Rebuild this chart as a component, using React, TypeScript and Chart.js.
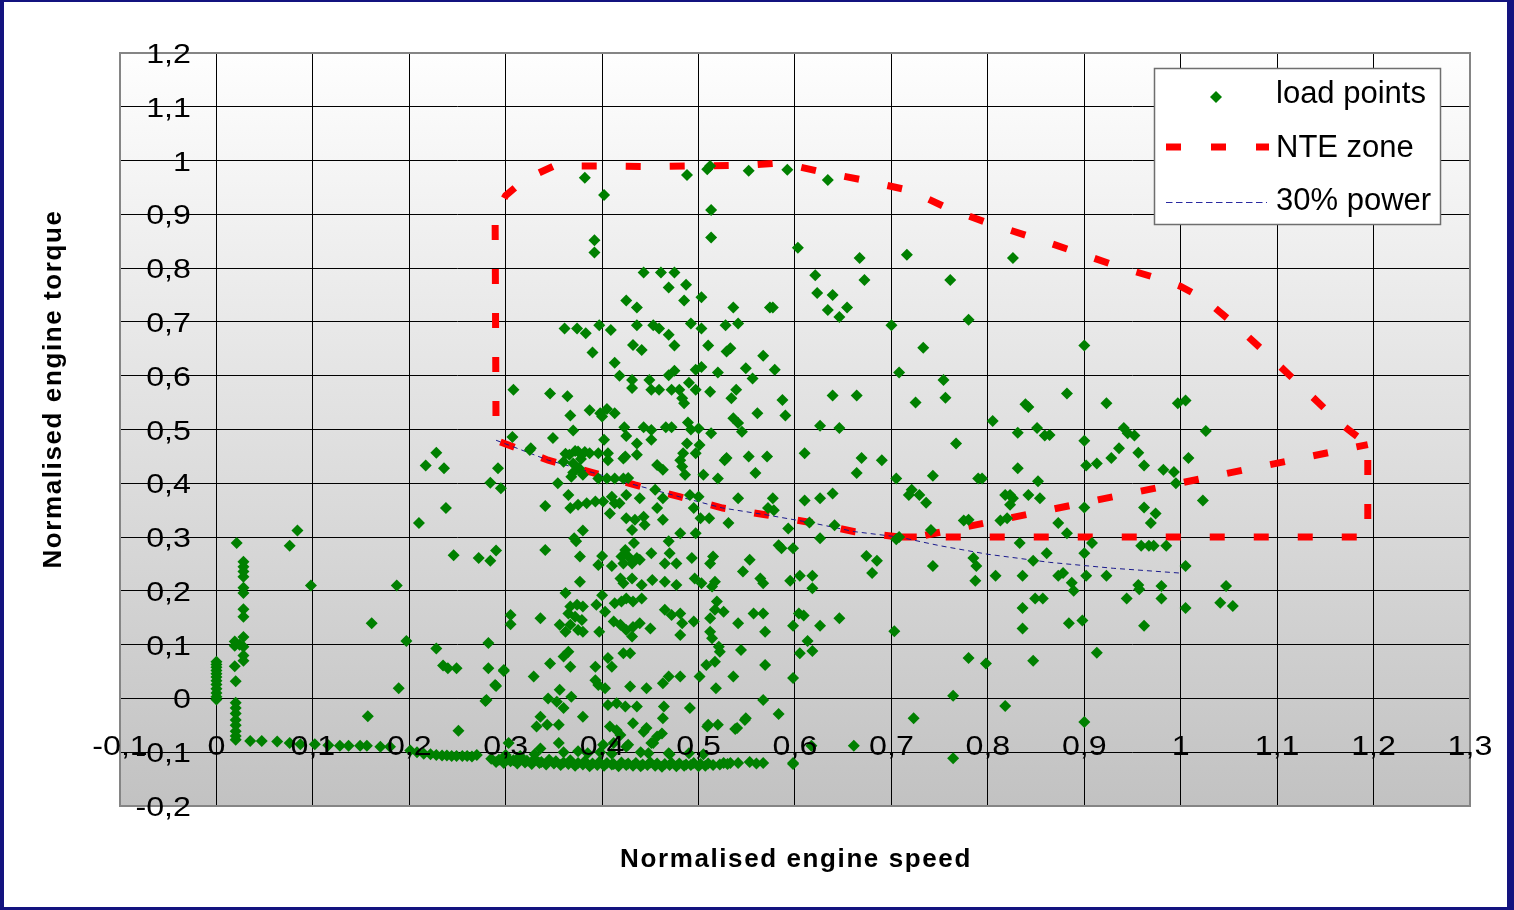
import React, { useEffect, useRef } from 'react';
import { Chart, registerables } from 'chart.js';

Chart.register(...registerables);

// ---------- axis setup ----------
const X_RANGE = [-0.1, 1.3];
const Y_RANGE = [-0.2, 1.2];
const TICK_STEP = 0.1;
const X_TITLE = 'Normalised engine speed';
const Y_TITLE = 'Normalised engine torque';
const LEGEND_LABELS = ['load points', 'NTE zone', '30% power'];

// ---------- load points [speed, torque] ----------
const idlePoints: [number, number][] = [
  [0, 0.068], [0, 0.063], [0, 0.058], [0, 0.052], [0, 0.046], [0, 0.04], [0, 0.033], [0, 0.026],
  [0, 0.018], [0, 0.01], [0, 0.003], [0, -0.002],
];

const lowSpeedColumn: [number, number][] = [
  [0.021, 0.289], [0.028, 0.254], [0.028, 0.245], [0.028, 0.236], [0.028, 0.226], [0.028, 0.206],
  [0.028, 0.196], [0.028, 0.166], [0.028, 0.152], [0.028, 0.114], [0.019, 0.106], [0.019, 0.098],
  [0.024, 0.1], [0.028, 0.096], [0.028, 0.08], [0.028, 0.07], [0.019, 0.06], [0.02, 0.032],
  [0.02, -0.008], [0.02, -0.018], [0.02, -0.028], [0.02, -0.04], [0.02, -0.05], [0.02, -0.061],
  [0.02, -0.07], [0.02, -0.077],
];

const motoringPoints: [number, number][] = [
  [0.035, -0.079], [0.047, -0.079], [0.063, -0.08], [0.076, -0.083], [0.087, -0.085], [0.102, -0.085],
  [0.116, -0.087], [0.128, -0.088], [0.137, -0.088], [0.149, -0.088], [0.156, -0.088], [0.17, -0.09],
  [0.18, -0.09], [0.201, -0.097], [0.208, -0.1], [0.215, -0.103], [0.222, -0.104], [0.228, -0.105],
  [0.234, -0.106], [0.239, -0.106], [0.244, -0.107], [0.249, -0.107], [0.255, -0.107], [0.26, -0.107],
  [0.265, -0.108], [0.27, -0.105],
];

const bottomBand: [number, number][] = [
  [0.285, -0.112], [0.293, -0.114], [0.3, -0.11], [0.308, -0.115], [0.315, -0.113], [0.322, -0.116],
  [0.33, -0.112], [0.337, -0.118], [0.345, -0.114], [0.352, -0.117], [0.36, -0.119], [0.367, -0.115],
  [0.375, -0.12], [0.382, -0.117], [0.39, -0.121], [0.397, -0.118], [0.405, -0.12], [0.412, -0.122],
  [0.42, -0.119], [0.427, -0.121], [0.435, -0.12], [0.442, -0.123], [0.45, -0.119], [0.457, -0.121],
  [0.465, -0.122], [0.472, -0.12], [0.48, -0.121], [0.487, -0.123], [0.495, -0.12], [0.502, -0.122],
  [0.51, -0.121],
  [0.29, -0.118], [0.298, -0.12], [0.305, -0.117], [0.312, -0.121], [0.32, -0.119], [0.327, -0.122],
  [0.335, -0.12], [0.342, -0.123], [0.35, -0.121], [0.357, -0.124], [0.365, -0.122], [0.372, -0.125],
  [0.38, -0.123], [0.387, -0.126], [0.395, -0.124], [0.402, -0.125], [0.41, -0.123], [0.417, -0.126],
  [0.425, -0.124], [0.432, -0.125], [0.44, -0.126], [0.447, -0.124], [0.455, -0.125], [0.462, -0.127],
  [0.47, -0.124], [0.477, -0.126], [0.485, -0.125], [0.492, -0.124], [0.5, -0.126], [0.507, -0.125],
  [0.515, -0.124], [0.522, -0.123],
  [0.526, -0.12], [0.533, -0.12], [0.541, -0.12], [0.553, -0.118], [0.567, -0.12], [0.598, -0.122],
  [0.53, -0.122], [0.56, -0.121],
  [0.36, -0.1], [0.375, -0.098], [0.385, -0.102], [0.398, -0.1], [0.41, -0.103], [0.44, -0.1],
  [0.47, -0.104], [0.49, -0.102], [0.505, -0.104], [0.3, -0.105], [0.315, -0.107], [0.33, -0.104],
];

const lowLoadScatter: [number, number][] = [
  [0.084, 0.312], [0.076, 0.284], [0.098, 0.21], [0.161, 0.14], [0.187, 0.21], [0.197, 0.107],
  [0.189, 0.019], [0.157, -0.033], [0.21, 0.326], [0.217, 0.433], [0.228, 0.457], [0.236, 0.428],
  [0.238, 0.354], [0.246, 0.266], [0.228, 0.093], [0.235, 0.061], [0.24, 0.056], [0.249, 0.056],
  [0.251, -0.06], [0.272, 0.261], [0.284, 0.256], [0.29, 0.275], [0.284, 0.401], [0.292, 0.428],
  [0.295, 0.391], [0.307, 0.486], [0.282, 0.103], [0.282, 0.056], [0.29, 0.023], [0.298, 0.051],
  [0.279, -0.005], [0.305, 0.155], [0.305, 0.138], [0.303, -0.083],
];

const upperMidCluster: [number, number][] = [
  [0.382, 0.968], [0.488, 0.973], [0.509, 0.984], [0.512, 0.99], [0.552, 0.981], [0.402, 0.936],
  [0.513, 0.908], [0.513, 0.857], [0.392, 0.852], [0.392, 0.829], [0.443, 0.792], [0.461, 0.792],
  [0.475, 0.792], [0.469, 0.764], [0.487, 0.769], [0.485, 0.74], [0.503, 0.746], [0.425, 0.74],
  [0.436, 0.727], [0.536, 0.727], [0.574, 0.727], [0.361, 0.688], [0.374, 0.688], [0.383, 0.679],
  [0.397, 0.694], [0.409, 0.685], [0.436, 0.694], [0.453, 0.694], [0.459, 0.688], [0.469, 0.676],
  [0.492, 0.697], [0.503, 0.688], [0.528, 0.694], [0.541, 0.697], [0.432, 0.657], [0.441, 0.648],
  [0.475, 0.656], [0.51, 0.656], [0.529, 0.645], [0.533, 0.651], [0.567, 0.637], [0.39, 0.643],
  [0.413, 0.624], [0.418, 0.6], [0.431, 0.592], [0.431, 0.577], [0.449, 0.592], [0.451, 0.574],
  [0.459, 0.574], [0.469, 0.601], [0.475, 0.609], [0.49, 0.587], [0.497, 0.611], [0.503, 0.616],
  [0.52, 0.606], [0.549, 0.614], [0.556, 0.595], [0.472, 0.574], [0.48, 0.574], [0.483, 0.558],
  [0.485, 0.549], [0.497, 0.574], [0.512, 0.57], [0.539, 0.574], [0.534, 0.558], [0.308, 0.574],
  [0.346, 0.567], [0.364, 0.562], [0.367, 0.526], [0.387, 0.536], [0.398, 0.53], [0.405, 0.538],
  [0.413, 0.53], [0.4, 0.524], [0.37, 0.498], [0.402, 0.481], [0.423, 0.504], [0.425, 0.488],
  [0.436, 0.474], [0.443, 0.504], [0.451, 0.499], [0.451, 0.481], [0.466, 0.504], [0.472, 0.504],
  [0.489, 0.513], [0.492, 0.5], [0.5, 0.502], [0.513, 0.493], [0.536, 0.521], [0.541, 0.512],
  [0.545, 0.496], [0.561, 0.53], [0.488, 0.474], [0.484, 0.456], [0.501, 0.471], [0.497, 0.456],
  [0.326, 0.465], [0.349, 0.484], [0.366, 0.453], [0.375, 0.459], [0.387, 0.456], [0.396, 0.456],
  [0.406, 0.456], [0.424, 0.45], [0.436, 0.453], [0.529, 0.447], [0.552, 0.45], [0.571, 0.45],
];

const lowerMidCluster: [number, number][] = [
  [0.325, 0.462], [0.362, 0.455], [0.372, 0.46], [0.382, 0.458], [0.36, 0.44], [0.37, 0.437],
  [0.378, 0.445], [0.376, 0.428], [0.37, 0.42], [0.406, 0.443], [0.422, 0.446], [0.457, 0.434],
  [0.463, 0.425], [0.481, 0.443], [0.483, 0.431], [0.486, 0.416], [0.505, 0.416], [0.52, 0.409],
  [0.527, 0.443], [0.559, 0.419], [0.354, 0.4], [0.365, 0.378], [0.368, 0.412], [0.38, 0.416],
  [0.396, 0.409], [0.405, 0.409], [0.413, 0.409], [0.422, 0.409], [0.427, 0.41], [0.425, 0.378],
  [0.439, 0.372], [0.455, 0.388], [0.463, 0.372], [0.491, 0.378], [0.5, 0.375], [0.541, 0.372],
  [0.572, 0.354], [0.341, 0.358], [0.367, 0.354], [0.375, 0.36], [0.384, 0.363], [0.393, 0.366],
  [0.401, 0.366], [0.41, 0.375], [0.413, 0.363], [0.408, 0.344], [0.418, 0.363], [0.457, 0.354],
  [0.425, 0.335], [0.434, 0.332], [0.443, 0.338], [0.444, 0.323], [0.463, 0.332], [0.495, 0.354],
  [0.502, 0.335], [0.511, 0.335], [0.531, 0.326], [0.38, 0.312], [0.371, 0.298], [0.373, 0.292],
  [0.431, 0.313], [0.433, 0.289], [0.481, 0.307], [0.497, 0.307], [0.469, 0.292], [0.341, 0.276],
  [0.377, 0.264], [0.4, 0.265], [0.396, 0.248], [0.41, 0.246], [0.42, 0.264], [0.424, 0.276],
  [0.427, 0.264], [0.436, 0.261], [0.422, 0.251], [0.431, 0.251], [0.439, 0.258], [0.451, 0.27],
  [0.465, 0.251], [0.47, 0.27], [0.477, 0.251], [0.493, 0.261], [0.512, 0.251], [0.515, 0.264],
  [0.546, 0.236], [0.553, 0.258], [0.564, 0.223], [0.567, 0.214], [0.377, 0.217], [0.419, 0.223],
  [0.422, 0.214], [0.431, 0.223], [0.441, 0.211], [0.452, 0.22], [0.465, 0.217], [0.477, 0.211],
  [0.496, 0.223], [0.503, 0.214], [0.517, 0.217], [0.514, 0.208], [0.362, 0.196], [0.367, 0.171],
  [0.365, 0.158], [0.374, 0.174], [0.38, 0.171], [0.372, 0.152], [0.379, 0.146], [0.356, 0.137],
  [0.362, 0.124], [0.375, 0.127], [0.38, 0.124], [0.367, 0.137], [0.336, 0.149], [0.394, 0.174],
  [0.4, 0.192], [0.403, 0.161], [0.397, 0.124], [0.413, 0.177], [0.42, 0.18], [0.425, 0.186],
  [0.432, 0.18], [0.441, 0.186], [0.412, 0.143], [0.419, 0.137], [0.425, 0.127], [0.432, 0.133],
  [0.439, 0.14], [0.45, 0.13], [0.431, 0.115], [0.465, 0.165], [0.472, 0.155], [0.481, 0.158],
  [0.483, 0.14], [0.495, 0.143], [0.481, 0.118], [0.512, 0.149], [0.517, 0.165], [0.519, 0.18],
  [0.526, 0.161], [0.541, 0.14], [0.557, 0.158], [0.567, 0.158], [0.569, 0.124], [0.512, 0.124],
  [0.514, 0.112], [0.521, 0.096], [0.522, 0.087], [0.544, 0.09], [0.365, 0.087], [0.36, 0.078],
  [0.367, 0.059], [0.346, 0.065], [0.329, 0.041], [0.298, 0.053], [0.289, 0.025], [0.393, 0.059],
  [0.406, 0.075], [0.41, 0.059], [0.422, 0.084], [0.429, 0.084], [0.469, 0.041], [0.481, 0.041],
  [0.501, 0.041], [0.508, 0.062], [0.517, 0.068], [0.536, 0.041], [0.393, 0.034], [0.396, 0.025],
  [0.403, 0.019], [0.429, 0.022], [0.446, 0.019], [0.463, 0.028], [0.518, 0.019], [0.569, 0.062],
  [0.356, 0.016], [0.368, 0.003], [0.344, 0], [0.353, -0.006], [0.36, -0.018], [0.28, -0.003],
  [0.336, -0.034], [0.343, -0.049], [0.355, -0.049], [0.332, -0.052], [0.38, -0.034], [0.406, -0.012],
  [0.415, -0.009], [0.424, -0.015], [0.436, -0.015], [0.464, -0.015], [0.491, -0.018], [0.463, -0.037],
  [0.408, -0.052], [0.419, -0.068], [0.432, -0.046], [0.446, -0.055], [0.457, -0.071], [0.462, -0.065],
  [0.451, -0.083], [0.51, -0.049], [0.52, -0.049], [0.54, -0.055], [0.549, -0.037], [0.567, -0.003],
  [0.355, -0.083], [0.336, -0.093], [0.412, -0.083], [0.425, -0.09], [0.509, -0.052], [0.538, -0.057],
  [0.548, -0.04], [0.443, -0.062], [0.453, -0.083], [0.427, -0.086], [0.448, -0.102], [0.469, -0.102],
  [0.401, -0.086], [0.415, -0.059],
];

const highSpeedUpper: [number, number][] = [
  [0.592, 0.983], [0.634, 0.964], [0.603, 0.838], [0.667, 0.819], [0.716, 0.825], [0.826, 0.819],
  [0.621, 0.787], [0.672, 0.778], [0.761, 0.778], [0.577, 0.727], [0.623, 0.754], [0.639, 0.75],
  [0.634, 0.722], [0.654, 0.727], [0.646, 0.709], [0.7, 0.694], [0.78, 0.704], [0.733, 0.652],
  [0.579, 0.611], [0.708, 0.606], [0.754, 0.592], [0.587, 0.555], [0.59, 0.526], [0.639, 0.563],
  [0.664, 0.563], [0.725, 0.55], [0.756, 0.559], [0.839, 0.547], [0.842, 0.542], [0.626, 0.507],
  [0.646, 0.503], [0.805, 0.516], [0.831, 0.494], [0.851, 0.503], [0.859, 0.489], [0.767, 0.474],
  [0.61, 0.456], [0.669, 0.447], [0.69, 0.443],
];

const highSpeedLower: [number, number][] = [
  [0.664, 0.419], [0.705, 0.409], [0.743, 0.414], [0.79, 0.409], [0.794, 0.409], [0.831, 0.428],
  [0.852, 0.404], [0.577, 0.372], [0.578, 0.35], [0.61, 0.368], [0.626, 0.372], [0.639, 0.381],
  [0.718, 0.378], [0.721, 0.388], [0.729, 0.378], [0.736, 0.364], [0.818, 0.378], [0.823, 0.378],
  [0.826, 0.372], [0.842, 0.378], [0.854, 0.372], [0.823, 0.36], [0.593, 0.316], [0.615, 0.327],
  [0.641, 0.322], [0.626, 0.298], [0.705, 0.296], [0.708, 0.3], [0.741, 0.313], [0.775, 0.331],
  [0.78, 0.332], [0.813, 0.331], [0.82, 0.335], [0.583, 0.285], [0.586, 0.279], [0.598, 0.279],
  [0.833, 0.289], [0.873, 0.326], [0.674, 0.265], [0.685, 0.256], [0.68, 0.233], [0.743, 0.246],
  [0.785, 0.261], [0.788, 0.246], [0.787, 0.219], [0.808, 0.228], [0.836, 0.228], [0.847, 0.256],
  [0.861, 0.27], [0.873, 0.228], [0.595, 0.219], [0.605, 0.228], [0.618, 0.228], [0.618, 0.205],
  [0.598, 0.135], [0.604, 0.158], [0.609, 0.154], [0.626, 0.135], [0.646, 0.149], [0.613, 0.107],
  [0.605, 0.084], [0.618, 0.088], [0.703, 0.125], [0.836, 0.168], [0.836, 0.13], [0.849, 0.186],
  [0.857, 0.186], [0.598, 0.038], [0.78, 0.075], [0.798, 0.065], [0.847, 0.07], [0.583, -0.029],
  [0.764, 0.005], [0.818, -0.014], [0.723, -0.037], [0.661, -0.088], [0.617, -0.088], [0.598, -0.12],
  [0.764, -0.111],
];

const ratedSpeedCluster: [number, number][] = [
  [0.9, 0.656], [0.882, 0.567], [0.923, 0.549], [0.997, 0.549], [1.005, 0.554], [0.941, 0.503],
  [0.945, 0.493], [0.952, 0.489], [1.026, 0.497], [0.9, 0.479], [0.936, 0.465], [0.928, 0.447],
  [0.956, 0.457], [0.962, 0.433], [0.902, 0.433], [0.913, 0.437], [1.008, 0.447], [0.982, 0.425],
  [0.993, 0.421], [0.995, 0.4], [0.864, 0.49], [0.9, 0.355], [0.962, 0.355], [0.974, 0.344],
  [0.969, 0.326], [1.023, 0.368], [0.882, 0.307], [0.908, 0.289], [0.9, 0.27], [0.959, 0.284],
  [0.967, 0.284], [0.972, 0.284], [0.985, 0.284], [1.005, 0.246], [0.878, 0.233], [0.902, 0.228],
  [0.923, 0.228], [0.887, 0.215], [0.889, 0.2], [0.956, 0.211], [0.957, 0.203], [0.98, 0.209],
  [0.98, 0.186], [0.944, 0.186], [1.047, 0.209], [1.041, 0.178], [1.054, 0.172], [1.005, 0.168],
  [0.884, 0.14], [0.898, 0.145], [0.962, 0.135], [0.913, 0.085], [0.9, -0.044],
];

// ---------- boundary curves [speed, torque] ----------
const nteZone: [number, number][] = [
  [0.708, 0.3], [0.662, 0.31], [0.616, 0.327], [0.571, 0.341], [0.525, 0.354], [0.48, 0.375],
  [0.434, 0.397], [0.39, 0.42], [0.344, 0.443], [0.29, 0.48],
  [0.289, 0.9], [0.3, 0.935], [0.32, 0.965], [0.35, 0.99], [0.4, 0.99], [0.45, 0.989], [0.5, 0.99],
  [0.55, 0.991], [0.58, 0.995], [0.605, 0.988], [0.63, 0.978], [0.67, 0.964], [0.72, 0.944],
  [0.76, 0.91], [0.8, 0.884], [0.85, 0.855], [0.89, 0.831], [0.935, 0.803], [0.98, 0.779],
  [1.0, 0.766], [1.025, 0.742], [1.06, 0.689], [1.095, 0.631], [1.13, 0.572], [1.165, 0.512],
  [1.194, 0.472],
  [1.194, 0.3], [0.708, 0.3],
  [0.726, 0.3], [1.194, 0.472],
];

const powerLine30: [number, number][] = [
  [0.29, 0.48], [0.344, 0.443], [0.39, 0.42], [0.434, 0.397], [0.48, 0.375], [0.525, 0.354],
  [0.571, 0.341], [0.616, 0.327], [0.662, 0.31], [0.708, 0.3], [0.75, 0.284], [0.8, 0.268],
  [0.864, 0.253], [0.93, 0.242], [1.0, 0.233],
];

const FONT = '"Liberation Sans", Arial, sans-serif';
const toXY = (arr: [number, number][]) => arr.map(([x, y]) => ({ x, y }));
const fmtTick = (v: number) => String(Math.round(v * 10) / 10).replace('.', ',');

const backgroundPlugin = {
  id: 'plotBackground',
  beforeDraw(chart: any) {
    const { ctx, chartArea: a } = chart;
    const g = ctx.createLinearGradient(0, a.top, 0, a.bottom);
    g.addColorStop(0, '#fefefe');
    g.addColorStop(1, '#c2c2c2');
    ctx.save();
    ctx.fillStyle = g;
    ctx.fillRect(a.left, a.top, a.right - a.left, a.bottom - a.top);
    ctx.restore();
  },
};

const overlayPlugin = {
  id: 'overlay',
  afterDraw(chart: any) {
    const { ctx, chartArea: a, scales } = chart;
    const xs = scales.x;
    const ys = scales.y;
    ctx.save();
    // plot frame
    ctx.strokeStyle = '#858585';
    ctx.lineWidth = 2;
    ctx.strokeRect(a.left, a.top, a.right - a.left, a.bottom - a.top);

    // tick labels
    ctx.fillStyle = '#000';
    ctx.font = `28px ${FONT}`;
    ctx.textBaseline = 'alphabetic';
    const yAxisPx = ys.getPixelForValue(0);
    ctx.textAlign = 'center';
    for (const t of xs.ticks) {
      const px = xs.getPixelForValue(t.value);
      ctx.save();
      ctx.translate(px, yAxisPx + 56.5);
      ctx.scale(1.15, 1);
      ctx.fillText(fmtTick(t.value), 0, 0);
      ctx.restore();
    }
    const xAxisPx = xs.getPixelForValue(0);
    ctx.textAlign = 'right';
    for (const t of ys.ticks) {
      const py = ys.getPixelForValue(t.value);
      ctx.save();
      ctx.translate(xAxisPx - 25.5, py + 10);
      ctx.scale(1.15, 1);
      ctx.fillText(fmtTick(t.value), 0, 0);
      ctx.restore();
    }

    // axis titles
    ctx.font = `bold 26px ${FONT}`;
    (ctx as any).letterSpacing = '1.6px';
    ctx.textAlign = 'center';
    ctx.fillText(X_TITLE, (a.left + a.right) / 2 + 1, a.bottom + 61);
    ctx.save();
    ctx.translate(a.left - 59, a.top + 336);
    ctx.rotate(-Math.PI / 2);
    ctx.fillText(Y_TITLE, 0, 0);
    ctx.restore();
    (ctx as any).letterSpacing = '0px';

    // legend
    const lx = a.right - 316;
    const ly = a.top + 15;
    ctx.fillStyle = '#fff';
    ctx.fillRect(lx, ly, 287, 157);
    ctx.strokeStyle = '#6e6e6e';
    ctx.lineWidth = 1.5;
    ctx.strokeRect(lx + 0.5, ly + 0.5, 286, 156);

    // load points symbol
    const dx = lx + 62;
    const dy = ly + 29;
    ctx.fillStyle = '#008000';
    ctx.beginPath();
    ctx.moveTo(dx - 6, dy);
    ctx.lineTo(dx, dy - 6);
    ctx.lineTo(dx + 6, dy);
    ctx.lineTo(dx, dy + 6);
    ctx.closePath();
    ctx.fill();

    // NTE symbol
    ctx.strokeStyle = '#ff0000';
    ctx.lineWidth = 7;
    ctx.setLineDash([15, 30]);
    ctx.beginPath();
    ctx.moveTo(lx + 12, ly + 79);
    ctx.lineTo(lx + 115, ly + 79);
    ctx.stroke();

    // 30% power symbol
    ctx.strokeStyle = '#2a2aa0';
    ctx.lineWidth = 1;
    ctx.setLineDash([6.5, 3.5]);
    ctx.beginPath();
    ctx.moveTo(lx + 12, ly + 134.5);
    ctx.lineTo(lx + 113, ly + 134.5);
    ctx.stroke();
    ctx.setLineDash([]);

    ctx.fillStyle = '#000';
    ctx.font = `31px ${FONT}`;
    ctx.textAlign = 'left';
    ctx.fillText(LEGEND_LABELS[0], lx + 122, ly + 35.3);
    ctx.fillText(LEGEND_LABELS[1], lx + 122, ly + 88.7);
    ctx.fillText(LEGEND_LABELS[2], lx + 122, ly + 142);
    ctx.restore();
  },
};

export default function App() {
  const canvasRef = useRef<HTMLCanvasElement | null>(null);

  useEffect(() => {
    const canvas = canvasRef.current;
    if (!canvas) return;
    const loadPoints = toXY([
      ...idlePoints,
      ...lowSpeedColumn,
      ...motoringPoints,
      ...bottomBand,
      ...lowLoadScatter,
      ...upperMidCluster,
      ...lowerMidCluster,
      ...highSpeedUpper,
      ...highSpeedLower,
      ...ratedSpeedCluster,
    ]);

    const chart = new Chart(canvas, {
      type: 'scatter',
      data: {
        datasets: [
          {
            label: LEGEND_LABELS[0],
            data: loadPoints,
            pointStyle: 'rectRot',
            pointRadius: 6,
            pointHoverRadius: 6,
            backgroundColor: '#008000',
            borderColor: '#008000',
            borderWidth: 0,
            showLine: false,
          } as any,
          {
            label: LEGEND_LABELS[2],
            data: toXY(powerLine30),
            showLine: true,
            borderColor: '#1a1a8c',
            borderWidth: 1,
            borderDash: [5, 4],
            pointRadius: 0,
            pointHoverRadius: 0,
            fill: false,
            tension: 0,
          } as any,
          {
            label: LEGEND_LABELS[1],
            data: toXY(nteZone),
            showLine: true,
            borderColor: '#ff0000',
            borderWidth: 7,
            borderDash: [15, 29],
            borderCapStyle: 'butt',
            borderJoinStyle: 'miter',
            pointRadius: 0,
            pointHoverRadius: 0,
            fill: false,
            tension: 0,
          } as any,
        ],
      },
      options: {
        responsive: false,
        animation: false,
        events: [],
        layout: { padding: { left: 120, top: 53, right: 44, bottom: 104 } },
        plugins: {
          legend: { display: false },
          tooltip: { enabled: false },
        },
        scales: {
          x: {
            type: 'linear',
            position: { y: 0 } as any,
            min: X_RANGE[0],
            max: X_RANGE[1],
            ticks: { display: false, stepSize: TICK_STEP, maxTicksLimit: 30, autoSkip: false },
            grid: { color: '#000', lineWidth: 1, tickLength: 9, drawTicks: true },
            border: { display: true, color: '#000', width: 1 },
          },
          y: {
            type: 'linear',
            position: { x: 0 } as any,
            min: Y_RANGE[0],
            max: Y_RANGE[1],
            ticks: { display: false, stepSize: TICK_STEP, maxTicksLimit: 30, autoSkip: false },
            grid: { color: '#000', lineWidth: 1, tickLength: 9, drawTicks: true },
            border: { display: true, color: '#000', width: 1 },
          },
        },
      } as any,
      plugins: [backgroundPlugin, overlayPlugin],
    });

    return () => chart.destroy();
  }, []);

  return (
    <div
      style={{
        position: 'fixed',
        left: 0,
        top: 0,
        width: 1514,
        height: 910,
        background: '#13137f',
        overflow: 'hidden',
      }}
    >
      <div
        style={{
          position: 'absolute',
          left: 4,
          top: 2,
          right: 7,
          bottom: 3,
          background: '#ffffff',
        }}
      />
      <canvas
        ref={canvasRef}
        width={1514}
        height={910}
        style={{ position: 'absolute', left: 0, top: 0 }}
      />
    </div>
  );
}
